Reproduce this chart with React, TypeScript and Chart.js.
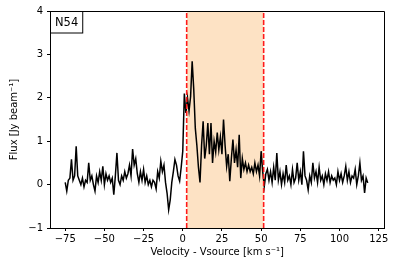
import React, { useEffect, useRef } from "react";
import { Chart, registerables } from "chart.js";
Chart.register(...registerables);

const velocities: number[] = [
  -75, -74, -73, -72, -71, -70, -69, -68, -67, -66, -65, -64, -63, -62, -61, -60, -59, -58, -57, -56,
  -55, -54, -53, -52, -51, -50, -49, -48, -47, -46, -45, -44, -43, -42, -41, -40, -39, -38, -37, -36,
  -35, -34, -33, -32, -31, -30, -29, -28, -27, -26, -25, -24, -23, -22, -21, -20, -19, -18, -17, -16,
  -15, -14, -13, -12, -11, -10, -9, -8, -7, -6, -5, -4, -3, -2, -1, 0, 1, 2, 3, 4,
  5, 6, 7, 8, 9, 10, 11, 12, 13, 14, 15, 16, 17, 18, 19, 20, 21, 22, 23, 24,
  25, 26, 27, 28, 29, 30, 31, 32, 33, 34, 35, 36, 37, 38, 39, 40, 41, 42, 43, 44,
  45, 46, 47, 48, 49, 50, 51, 52, 53, 54, 55, 56, 57, 58, 59, 60, 61, 62, 63, 64,
  65, 66, 67, 68, 69, 70, 71, 72, 73, 74, 75, 76, 77, 78, 79, 80, 81, 82, 83, 84,
  85, 86, 87, 88, 89, 90, 91, 92, 93, 94, 95, 96, 97, 98, 99, 100, 101, 102, 103, 104,
  105, 106, 107, 108, 109, 110, 111, 112, 113, 114, 115, 116, 117, 118,
];

const flux: number[] = [
  0.05, -0.15, 0.1, 0.15, 0.58, 0.1, 0.2, 0.88, 0.2, 0.1, 0.0, 0.15, -0.05, 0.1, 0.05, 0.5, 0.1, 0.2, 0.0, -0.15,
  0.2, 0.05, 0.3, 0.1, 0.42, 0.0, 0.25, 0.1, 0.2, 0.05, 0.15, -0.23, 0.2, 0.73, 0.1, 0.0, 0.2, 0.1, 0.3, 0.15,
  0.25, 0.45, 0.2, 0.82, 0.45, 0.6, 0.25, 0.05, 0.3, 0.1, 0.35, 0.05, 0.2, 0.0, 0.1, -0.05, 0.1, 0.05, -0.1, 0.3,
  0.15, 0.54, 0.3, 0.45, 0.05, -0.2, -0.58, -0.35, 0.05, 0.3, 0.58, 0.45, 0.2, 0.08, 0.4, 0.77, 2.1, 1.65, 2.0, 1.7,
  2.03, 2.84, 2.2, 1.3, 0.9, 0.4, 0.05, 0.9, 1.46, 0.6, 0.9, 1.42, 0.7, 1.42, 0.5, 1.0, 0.75, 1.2, 0.8, 1.1,
  0.7, 1.5, 0.9, 0.42, 0.7, 0.08, 0.6, 1.04, 0.5, 0.8, 0.4, 1.15, 0.15, 0.6, 0.35, 0.5, 0.3, 0.45, 0.3, 0.4,
  0.25, 0.5, 0.3, 0.45, 0.2, 0.77, 0.3, -0.04, 0.25, 0.35, 0.1, 0.3, 0.05, 0.4, 0.1, 0.73, 0.1, 0.3, 0.0, 0.25,
  0.05, 0.45, 0.1, 0.2, 0.0, 0.35, 0.05, 0.15, 0.5, 0.1, 0.3, 0.0, 0.77, 0.2, 0.1, -0.12, 0.2, 0.05, 0.5, 0.15,
  0.3, 0.05, 0.4, 0.1, 0.2, 0.0, 0.25, 0.1, 0.3, 0.05, 0.2, 0.1, 0.15, 0.0, 0.3, 0.1, 0.25, 0.05, 0.2, 0.42,
  0.1, 0.3, 0.05, 0.2, 0.15, 0.35, 0.0, 0.2, 0.5, 0.1, 0.2, -0.19, 0.15, 0.04,
];

const regionBounds: number[] = [2.5, 51.6];
const xTicks: number[] = [-75, -50, -25, 0, 25, 50, 75, 100, 125];
const yTicks: number[] = [-1, 0, 1, 2, 3, 4];
const xRange: number[] = [-84.7, 128.7];
const sourceLabel = "N54";
const xTitle = "Velocity - Vsource [km s\u207B\u00B9]";
const yTitle = "Flux [Jy beam\u207B\u00B9]";

const FONT = "'DejaVu Sans', sans-serif";

const fmt = (v: number) => (v < 0 ? "\u2212" + Math.abs(v) : String(v));

export default function App() {
  const ref = useRef<HTMLCanvasElement>(null);
  useEffect(() => {
    const spectrum = velocities.map((v, i) => ({ x: v, y: flux[i] }));
    const yMin = yTicks[0];
    const yMax = yTicks[yTicks.length - 1];

    const framePlugin = {
      id: "frame",
      afterDatasetsDraw(chart: any) {
        const { ctx, chartArea: a } = chart;
        ctx.save();
        ctx.strokeStyle = "#000";
        ctx.lineWidth = 1;
        const l = Math.round(a.left) + 0.5;
        const t = Math.round(a.top) + 0.5;
        const r = Math.round(a.right) - 0.5;
        const b = Math.round(a.bottom) + 0.5;
        ctx.beginPath();
        ctx.moveTo(l, b);
        ctx.lineTo(l, t);
        ctx.lineTo(r, t);
        ctx.lineTo(r, b);
        ctx.stroke();
        // label box
        ctx.font = `11.5px ${FONT}`;
        const w = ctx.measureText(sourceLabel).width;
        const bw = w + 9;
        const bh = 21.5;
        ctx.fillStyle = "#fff";
        ctx.fillRect(l, t, bw, bh);
        ctx.strokeRect(l, t, bw, bh);
        ctx.fillStyle = "#000";
        ctx.textBaseline = "middle";
        ctx.textAlign = "left";
        ctx.fillText(sourceLabel, l + 4.5, t + bh / 2 + 0.5);
        ctx.restore();
      },
    };

    const chart = new Chart(ref.current!, {
      type: "line",
      data: {
        datasets: [
          {
            data: [{ x: regionBounds[0], y: yMin }, { x: regionBounds[0], y: yMax }],
            borderColor: "#ff1a1a",
            borderDash: [5, 2],
            borderWidth: 1.6,
            pointRadius: 0,
            order: 0,
          },
          {
            data: [{ x: regionBounds[1], y: yMin }, { x: regionBounds[1], y: yMax }],
            borderColor: "#ff1a1a",
            borderDash: [5, 2],
            borderWidth: 1.6,
            pointRadius: 0,
            order: 0,
          },
          {
            data: spectrum,
            borderColor: "#000",
            borderWidth: 1.5,
            pointRadius: 0,
            tension: 0,
            order: 1,
          },
          {
            data: [{ x: regionBounds[0], y: yMax }, { x: regionBounds[1], y: yMax }],
            borderColor: "rgba(0,0,0,0)",
            borderWidth: 0,
            backgroundColor: "rgb(253,226,196)",
            fill: "start",
            pointRadius: 0,
            order: 2,
          },
        ],
      } as any,
      options: {
        animation: false,
        responsive: false,
        devicePixelRatio: 1,
        layout: { padding: { left: 0, right: 10.5, top: 11, bottom: 0 } },
        plugins: { legend: { display: false }, tooltip: { enabled: false } },
        scales: {
          x: {
            type: "linear",
            min: xRange[0],
            max: xRange[1],
            afterBuildTicks: (axis: any) => {
              axis.ticks = xTicks.map((v) => ({ value: v }));
            },
            afterFit: (s: any) => {
              s.height = 44;
            },
            ticks: {
              callback: (v: any) => fmt(Number(v)),
              font: { family: FONT, size: 10 },
              color: "#000",
              padding: 2,
              maxRotation: 0,
              autoSkip: false,
            },
            grid: { drawOnChartArea: false, tickLength: 3, color: "#000" },
            border: { color: "#000", width: 1 },
            title: {
              display: true,
              text: xTitle,
              font: { family: FONT, size: 10 },
              color: "#000",
              padding: { top: 0, bottom: 14 },
            },
          },
          y: {
            type: "linear",
            min: yMin,
            max: yMax,
            afterBuildTicks: (axis: any) => {
              axis.ticks = yTicks.map((v) => ({ value: v }));
            },
            afterFit: (s: any) => {
              s.width = 50;
            },
            ticks: {
              callback: (v: any) => fmt(Number(v)),
              font: { family: FONT, size: 10 },
              color: "#000",
              padding: 4,
            },
            grid: { drawOnChartArea: false, tickLength: 3, color: "#000" },
            border: { color: "#000", width: 1 },
            title: {
              display: true,
              text: yTitle,
              font: { family: FONT, size: 10 },
              color: "#000",
              padding: { top: 8, bottom: 0 },
            },
          },
        },
      } as any,
      plugins: [framePlugin],
    });
    return () => chart.destroy();
  }, []);

  return (
    <div style={{ position: "absolute", left: 0, top: 0, width: 395, height: 272, background: "#fff" }}>
      <canvas ref={ref} width={395} height={272} style={{ display: "block", width: 395, height: 272 }} />
    </div>
  );
}
